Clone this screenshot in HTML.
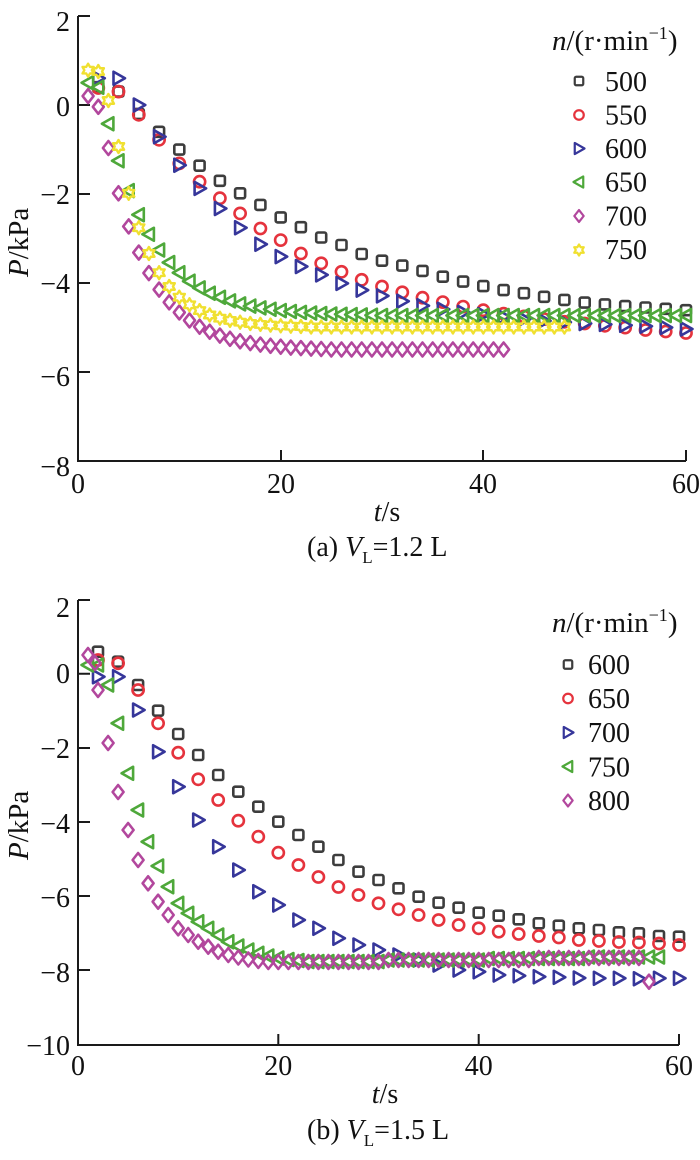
<!DOCTYPE html>
<html><head><meta charset="utf-8"><style>
html,body{margin:0;padding:0;background:#fff;}
svg{display:block;}
text{font-family:"Liberation Serif",serif;fill:#111;}
</style></head><body>
<svg width="700" height="1160" viewBox="0 0 700 1160" xmlns="http://www.w3.org/2000/svg">
<defs>
<rect id="q" x="-5" y="-5" width="10" height="10" rx="1.8"/>
<circle id="c" r="5.6"/>
<path id="r" d="M-5,-6.5L6.5,0L-5,6.5Z"/>
<path id="l" d="M5,-6.5L-6.5,0L5,6.5Z"/>
<path id="d" d="M0,-7L5.5,0L0,7L-5.5,0Z"/>
<path id="h" d="M0,-6.5L1.9,-3.25L5.6,-3.25L3.75,0L5.6,3.25L1.9,3.25L0,6.5L-1.9,3.25L-5.6,3.25L-3.75,0L-5.6,-3.25L-1.9,-3.25Z"/>
</defs>

<!-- ============ PANEL A ============ -->
<g stroke="#1a1a1a" stroke-width="2" fill="none">
<path d="M78,16V461H686"/>
<path d="M78,16H90M78,105H90M78,194H90M78,283H90M78,372H90"/>
<path d="M281,461V450M483,461V450M686,461V450"/>
</g>
<g font-size="28" text-anchor="end">
<text x="70" y="31">2</text>
<text x="70" y="116">0</text>
<text x="70" y="204">−2</text>
<text x="70" y="293">−4</text>
<text x="70" y="386">−6</text>
<text x="70" y="476">−8</text>
</g>
<g font-size="28" text-anchor="middle">
<text x="78" y="493">0</text>
<text x="281" y="493">20</text>
<text x="483" y="493">40</text>
<text x="686" y="493">60</text>
<text x="387" y="521"><tspan font-style="italic">t</tspan>/s</text>
</g>
<text font-size="29" transform="translate(28,277) rotate(-90)"><tspan font-style="italic">P</tspan>/kPa</text>
<text font-size="28" x="307" y="556">(a) <tspan font-style="italic">V</tspan><tspan font-size="17" dy="7">L</tspan><tspan dy="-7">=1.2 L</tspan></text>

<!-- legend a -->
<text font-size="29" x="552" y="50"><tspan font-style="italic">n</tspan>/(r·min<tspan font-size="18" dy="-11">−1</tspan><tspan dy="11">)</tspan></text>
<g font-size="28">
<text x="605" y="91">500</text>
<text x="605" y="124.5">550</text>
<text x="605" y="158">600</text>
<text x="605" y="191.5">650</text>
<text x="605" y="225.5">700</text>
<text x="605" y="259">750</text>
</g>
<g fill="none" stroke-width="2.6" stroke-linejoin="round">
<use href="#q" transform="translate(579,81) scale(0.85)" stroke="#3d3d3d"/>
<use href="#c" transform="translate(579,115) scale(0.85)" stroke="#e5333d"/>
<use href="#r" transform="translate(579,148.5) scale(0.85)" stroke="#36369a"/>
<use href="#l" transform="translate(579,182) scale(0.85)" stroke="#4ea83a"/>
<use href="#d" transform="translate(579,216) scale(0.85)" stroke="#b2479d"/>
<use href="#h" transform="translate(579,250) scale(0.85)" stroke="#f0e030"/>
</g>

<!-- series a: 500 black squares -->
<g fill="none" stroke="#3d3d3d" stroke-width="2.6" stroke-linejoin="round">
<use href="#q" x="98.3" y="87.2"/><use href="#q" x="118.5" y="91.6"/><use href="#q" x="138.8" y="113.9"/><use href="#q" x="159.1" y="131.8"/><use href="#q" x="179.3" y="149.6"/><use href="#q" x="199.6" y="165.7"/><use href="#q" x="219.9" y="180.8"/><use href="#q" x="240.1" y="193.3"/><use href="#q" x="260.4" y="204.9"/><use href="#q" x="280.7" y="217.4"/><use href="#q" x="300.9" y="227.2"/><use href="#q" x="321.2" y="237.5"/><use href="#q" x="341.5" y="245"/><use href="#q" x="361.7" y="254"/><use href="#q" x="382" y="260.7"/><use href="#q" x="402.3" y="265.6"/><use href="#q" x="422.5" y="270.9"/><use href="#q" x="442.8" y="276.7"/><use href="#q" x="463.1" y="281.6"/><use href="#q" x="483.3" y="286.1"/><use href="#q" x="503.6" y="290.1"/><use href="#q" x="523.9" y="293.2"/><use href="#q" x="544.1" y="296.8"/><use href="#q" x="564.4" y="299.9"/><use href="#q" x="584.7" y="302.6"/><use href="#q" x="604.9" y="304.4"/><use href="#q" x="625.2" y="306.1"/><use href="#q" x="645.5" y="307.5"/><use href="#q" x="665.7" y="308.8"/><use href="#q" x="686" y="310.2"/>
</g>
<!-- 550 red circles -->
<g fill="none" stroke="#e5333d" stroke-width="2.6">
<use href="#c" x="98.3" y="88"/><use href="#c" x="118.5" y="91.6"/><use href="#c" x="138.8" y="114.8"/><use href="#c" x="159.1" y="139.8"/><use href="#c" x="179.3" y="163.4"/><use href="#c" x="199.6" y="181.7"/><use href="#c" x="219.9" y="198.2"/><use href="#c" x="240.1" y="213.4"/><use href="#c" x="260.4" y="228.5"/><use href="#c" x="280.7" y="240.1"/><use href="#c" x="300.9" y="253.5"/><use href="#c" x="321.2" y="263.3"/><use href="#c" x="341.5" y="271.8"/><use href="#c" x="361.7" y="279.8"/><use href="#c" x="382" y="286.5"/><use href="#c" x="402.3" y="292.3"/><use href="#c" x="422.5" y="297.7"/><use href="#c" x="442.8" y="302.1"/><use href="#c" x="463.1" y="306.6"/><use href="#c" x="483.3" y="310.2"/><use href="#c" x="503.6" y="313.7"/><use href="#c" x="523.9" y="316.4"/><use href="#c" x="544.1" y="319.1"/><use href="#c" x="564.4" y="321.8"/><use href="#c" x="584.7" y="323.5"/><use href="#c" x="604.9" y="325.8"/><use href="#c" x="625.2" y="327.6"/><use href="#c" x="645.5" y="330"/><use href="#c" x="665.7" y="331.5"/><use href="#c" x="686" y="333"/>
</g>
<!-- 600 blue right triangles -->
<g fill="none" stroke="#36369a" stroke-width="2.6" stroke-linejoin="round">
<use href="#r" x="98.3" y="78.2"/><use href="#r" x="118.5" y="78.2"/><use href="#r" x="138.8" y="105"/><use href="#r" x="159.1" y="136.7"/><use href="#r" x="179.3" y="165.2"/><use href="#r" x="199.6" y="188.4"/><use href="#r" x="219.9" y="208.5"/><use href="#r" x="240.1" y="227.7"/><use href="#r" x="260.4" y="244.2"/><use href="#r" x="280.7" y="256.6"/><use href="#r" x="300.9" y="266.5"/><use href="#r" x="321.2" y="274.9"/><use href="#r" x="341.5" y="283.4"/><use href="#r" x="361.7" y="290.1"/><use href="#r" x="382" y="295.9"/><use href="#r" x="402.3" y="301.2"/><use href="#r" x="422.5" y="305.7"/><use href="#r" x="442.8" y="309.3"/><use href="#r" x="463.1" y="312.4"/><use href="#r" x="483.3" y="314.6"/><use href="#r" x="503.6" y="316.9"/><use href="#r" x="523.9" y="319.1"/><use href="#r" x="544.1" y="320.9"/><use href="#r" x="564.4" y="322.2"/><use href="#r" x="584.7" y="323.5"/><use href="#r" x="604.9" y="324.4"/><use href="#r" x="625.2" y="325.3"/><use href="#r" x="645.5" y="326.2"/><use href="#r" x="665.7" y="327.5"/><use href="#r" x="686" y="329"/>
</g>
<!-- 650 green left triangles -->
<g fill="none" stroke="#4ea83a" stroke-width="2.6" stroke-linejoin="round">
<use href="#l" x="88.1" y="82.7"/><use href="#l" x="98.3" y="87.2"/><use href="#l" x="108.4" y="123.7"/><use href="#l" x="118.5" y="160.8"/><use href="#l" x="128.7" y="190.6"/><use href="#l" x="138.8" y="214.7"/><use href="#l" x="148.9" y="234.3"/><use href="#l" x="159.1" y="250"/><use href="#l" x="169.2" y="262.5"/><use href="#l" x="179.3" y="272.7"/><use href="#l" x="189.5" y="281.2"/><use href="#l" x="199.6" y="287.9"/><use href="#l" x="209.7" y="293.2"/><use href="#l" x="219.9" y="297.3"/><use href="#l" x="230" y="300.9"/><use href="#l" x="240.1" y="303.9"/><use href="#l" x="250.3" y="306.1"/><use href="#l" x="260.4" y="307.9"/><use href="#l" x="270.5" y="309.3"/><use href="#l" x="280.7" y="310.6"/><use href="#l" x="290.8" y="311.5"/><use href="#l" x="300.9" y="312.4"/><use href="#l" x="311.1" y="313"/><use href="#l" x="321.2" y="313.5"/><use href="#l" x="331.3" y="314"/><use href="#l" x="341.5" y="314.3"/><use href="#l" x="351.6" y="314.6"/><use href="#l" x="361.7" y="314.9"/><use href="#l" x="371.9" y="315.2"/><use href="#l" x="382" y="315.5"/><use href="#l" x="392.1" y="315.5"/><use href="#l" x="402.3" y="315.5"/><use href="#l" x="412.4" y="315.5"/><use href="#l" x="422.5" y="315.5"/><use href="#l" x="432.7" y="315.5"/><use href="#l" x="442.8" y="315.5"/><use href="#l" x="452.9" y="315.5"/><use href="#l" x="463.1" y="315.5"/><use href="#l" x="473.2" y="315.5"/><use href="#l" x="483.3" y="315.5"/><use href="#l" x="493.5" y="315.5"/><use href="#l" x="503.6" y="315.5"/><use href="#l" x="513.7" y="315.5"/><use href="#l" x="523.9" y="315.5"/><use href="#l" x="534" y="315.5"/><use href="#l" x="544.1" y="315.5"/><use href="#l" x="554.3" y="315.5"/><use href="#l" x="564.4" y="315.5"/><use href="#l" x="574.5" y="315.5"/><use href="#l" x="584.7" y="315.5"/><use href="#l" x="594.8" y="315.5"/><use href="#l" x="604.9" y="315.5"/><use href="#l" x="615.1" y="315.5"/><use href="#l" x="625.2" y="315.5"/><use href="#l" x="635.3" y="315.5"/><use href="#l" x="645.5" y="315.5"/><use href="#l" x="655.6" y="315.5"/><use href="#l" x="665.7" y="315.5"/><use href="#l" x="675.9" y="315.5"/><use href="#l" x="686" y="315.5"/>
</g>
<!-- 700 pink diamonds -->
<g fill="none" stroke="#b2479d" stroke-width="2.6" stroke-linejoin="round">
<use href="#d" x="88.1" y="96.1"/><use href="#d" x="98.3" y="106.8"/><use href="#d" x="108.4" y="148"/><use href="#d" x="118.5" y="193.3"/><use href="#d" x="128.7" y="226.4"/><use href="#d" x="138.8" y="252.6"/><use href="#d" x="148.9" y="273.1"/><use href="#d" x="159.1" y="289.6"/><use href="#d" x="169.2" y="302.3"/><use href="#d" x="179.3" y="312.4"/><use href="#d" x="189.5" y="320.4"/><use href="#d" x="199.6" y="326.7"/><use href="#d" x="209.7" y="331.7"/><use href="#d" x="219.9" y="335.6"/><use href="#d" x="230" y="338.8"/><use href="#d" x="240.1" y="341.3"/><use href="#d" x="250.3" y="343.1"/><use href="#d" x="260.4" y="344.6"/><use href="#d" x="270.5" y="345.8"/><use href="#d" x="280.7" y="346.7"/><use href="#d" x="290.8" y="347.6"/><use href="#d" x="300.9" y="348.1"/><use href="#d" x="311.1" y="348.6"/><use href="#d" x="321.2" y="349"/><use href="#d" x="331.3" y="349.5"/><use href="#d" x="341.5" y="349.5"/><use href="#d" x="351.6" y="349.5"/><use href="#d" x="361.7" y="349.5"/><use href="#d" x="371.9" y="349.5"/><use href="#d" x="382" y="349.5"/><use href="#d" x="392.1" y="349.5"/><use href="#d" x="402.3" y="349.5"/><use href="#d" x="412.4" y="349.5"/><use href="#d" x="422.5" y="349.5"/><use href="#d" x="432.7" y="349.5"/><use href="#d" x="442.8" y="349.5"/><use href="#d" x="452.9" y="349.5"/><use href="#d" x="463.1" y="349.5"/><use href="#d" x="473.2" y="349.5"/><use href="#d" x="483.3" y="349.5"/><use href="#d" x="493.5" y="349.5"/><use href="#d" x="503.6" y="349.5"/>
</g>
<!-- 750 yellow stars -->
<g fill="none" stroke="#f0e030" stroke-width="2.4" stroke-linejoin="round">
<use href="#h" x="88.1" y="70.2"/><use href="#h" x="98.3" y="71.5"/><use href="#h" x="108.4" y="100.5"/><use href="#h" x="118.5" y="146.5"/><use href="#h" x="128.7" y="193.3"/><use href="#h" x="138.8" y="227.7"/><use href="#h" x="148.9" y="253.5"/><use href="#h" x="159.1" y="272.7"/><use href="#h" x="169.2" y="286.5"/><use href="#h" x="179.3" y="297.2"/><use href="#h" x="189.5" y="304.8"/><use href="#h" x="199.6" y="310.6"/><use href="#h" x="209.7" y="315"/><use href="#h" x="219.9" y="318.2"/><use href="#h" x="230" y="320.4"/><use href="#h" x="240.1" y="322.2"/><use href="#h" x="250.3" y="323.5"/><use href="#h" x="260.4" y="324.4"/><use href="#h" x="270.5" y="325.1"/><use href="#h" x="280.7" y="325.8"/><use href="#h" x="290.8" y="326.2"/><use href="#h" x="300.9" y="326.5"/><use href="#h" x="311.1" y="327"/><use href="#h" x="321.2" y="327"/><use href="#h" x="331.3" y="327"/><use href="#h" x="341.5" y="327"/><use href="#h" x="351.6" y="327"/><use href="#h" x="361.7" y="327"/><use href="#h" x="371.9" y="327"/><use href="#h" x="382" y="327"/><use href="#h" x="392.1" y="327"/><use href="#h" x="402.3" y="327"/><use href="#h" x="412.4" y="327"/><use href="#h" x="422.5" y="327"/><use href="#h" x="432.7" y="327"/><use href="#h" x="442.8" y="327"/><use href="#h" x="452.9" y="327"/><use href="#h" x="463.1" y="327"/><use href="#h" x="473.2" y="327"/><use href="#h" x="483.3" y="327"/><use href="#h" x="493.5" y="327"/><use href="#h" x="503.6" y="327"/><use href="#h" x="513.7" y="327"/><use href="#h" x="523.9" y="327"/><use href="#h" x="534" y="327"/><use href="#h" x="544.1" y="327"/><use href="#h" x="554.3" y="327"/><use href="#h" x="564.4" y="327"/>
</g>

<!-- ============ PANEL B ============ -->
<g stroke="#1a1a1a" stroke-width="2" fill="none">
<path d="M78,600V1045H679"/>
<path d="M78,600H90M78,673.8H90M78,748H90M78,822H90M78,896H90M78,970H90"/>
<path d="M278.3,1045V1034M478.7,1045V1034M679,1045V1034"/>
</g>
<g font-size="28" text-anchor="end">
<text x="70" y="617">2</text>
<text x="70" y="683">0</text>
<text x="70" y="758">−2</text>
<text x="70" y="833">−4</text>
<text x="70" y="907">−6</text>
<text x="70" y="982">−8</text>
<text x="70" y="1055">−10</text>
</g>
<g font-size="28" text-anchor="middle">
<text x="78" y="1075">0</text>
<text x="278.3" y="1075">20</text>
<text x="478.7" y="1075">40</text>
<text x="679" y="1075">60</text>
<text x="385" y="1103"><tspan font-style="italic">t</tspan>/s</text>
</g>
<text font-size="29" transform="translate(28,860) rotate(-90)"><tspan font-style="italic">P</tspan>/kPa</text>
<text font-size="28" x="307" y="1139">(b) <tspan font-style="italic">V</tspan><tspan font-size="17" dy="7">L</tspan><tspan dy="-7">=1.5 L</tspan></text>

<!-- legend b -->
<text font-size="29" x="552" y="632"><tspan font-style="italic">n</tspan>/(r·min<tspan font-size="18" dy="-11">−1</tspan><tspan dy="11">)</tspan></text>
<g font-size="28">
<text x="588" y="674">600</text>
<text x="588" y="708">650</text>
<text x="588" y="742">700</text>
<text x="588" y="776.5">750</text>
<text x="588" y="810">800</text>
</g>
<g fill="none" stroke-width="2.6" stroke-linejoin="round">
<use href="#q" transform="translate(568,664.5) scale(0.85)" stroke="#3d3d3d"/>
<use href="#c" transform="translate(568,698.5) scale(0.85)" stroke="#e5333d"/>
<use href="#r" transform="translate(568,732.5) scale(0.85)" stroke="#36369a"/>
<use href="#l" transform="translate(568,766.5) scale(0.85)" stroke="#4ea83a"/>
<use href="#d" transform="translate(568,800.5) scale(0.85)" stroke="#b2479d"/>
</g>

<!-- 600 black squares -->
<g fill="none" stroke="#3d3d3d" stroke-width="2.6" stroke-linejoin="round">
<use href="#q" x="98" y="651.7"/><use href="#q" x="118.1" y="661.7"/><use href="#q" x="138.1" y="685"/><use href="#q" x="158.1" y="710.7"/><use href="#q" x="178.2" y="734"/><use href="#q" x="198.2" y="755"/><use href="#q" x="218.2" y="775"/><use href="#q" x="238.3" y="791.7"/><use href="#q" x="258.3" y="806.7"/><use href="#q" x="278.3" y="821.7"/><use href="#q" x="298.4" y="835"/><use href="#q" x="318.4" y="846.7"/><use href="#q" x="338.4" y="860"/><use href="#q" x="358.5" y="871.7"/><use href="#q" x="378.5" y="880"/><use href="#q" x="398.5" y="888.3"/><use href="#q" x="418.6" y="896.7"/><use href="#q" x="438.6" y="902.7"/><use href="#q" x="458.6" y="907.7"/><use href="#q" x="478.7" y="912.7"/><use href="#q" x="498.7" y="915.7"/><use href="#q" x="518.7" y="919.3"/><use href="#q" x="538.8" y="923.3"/><use href="#q" x="558.8" y="925.7"/><use href="#q" x="578.8" y="928.3"/><use href="#q" x="598.9" y="930"/><use href="#q" x="618.9" y="932.3"/><use href="#q" x="638.9" y="933.3"/><use href="#q" x="659" y="936"/><use href="#q" x="679" y="936.7"/>
</g>
<!-- 650 red circles -->
<g fill="none" stroke="#e5333d" stroke-width="2.6">
<use href="#c" x="98" y="660"/><use href="#c" x="118.1" y="663.3"/><use href="#c" x="138.1" y="690"/><use href="#c" x="158.1" y="723.3"/><use href="#c" x="178.2" y="752.7"/><use href="#c" x="198.2" y="779.3"/><use href="#c" x="218.2" y="800"/><use href="#c" x="238.3" y="820.7"/><use href="#c" x="258.3" y="836.7"/><use href="#c" x="278.3" y="852.7"/><use href="#c" x="298.4" y="865"/><use href="#c" x="318.4" y="877"/><use href="#c" x="338.4" y="887"/><use href="#c" x="358.5" y="895"/><use href="#c" x="378.5" y="903.3"/><use href="#c" x="398.5" y="909.3"/><use href="#c" x="418.6" y="915"/><use href="#c" x="438.6" y="920"/><use href="#c" x="458.6" y="925"/><use href="#c" x="478.7" y="928.3"/><use href="#c" x="498.7" y="931.7"/><use href="#c" x="518.7" y="934"/><use href="#c" x="538.8" y="936"/><use href="#c" x="558.8" y="937.5"/><use href="#c" x="578.8" y="940"/><use href="#c" x="598.9" y="941"/><use href="#c" x="618.9" y="942"/><use href="#c" x="638.9" y="942.5"/><use href="#c" x="659" y="943.5"/><use href="#c" x="679" y="945"/>
</g>
<!-- 700 blue right triangles -->
<g fill="none" stroke="#36369a" stroke-width="2.6" stroke-linejoin="round">
<use href="#r" x="98" y="676.7"/><use href="#r" x="118.1" y="676.7"/><use href="#r" x="138.1" y="710"/><use href="#r" x="158.1" y="751.7"/><use href="#r" x="178.2" y="786.7"/><use href="#r" x="198.2" y="820"/><use href="#r" x="218.2" y="846.7"/><use href="#r" x="238.3" y="870"/><use href="#r" x="258.3" y="891.7"/><use href="#r" x="278.3" y="905"/><use href="#r" x="298.4" y="920"/><use href="#r" x="318.4" y="928.3"/><use href="#r" x="338.4" y="938.3"/><use href="#r" x="358.5" y="945"/><use href="#r" x="378.5" y="950"/><use href="#r" x="398.5" y="955"/><use href="#r" x="418.6" y="960"/><use href="#r" x="438.6" y="965"/><use href="#r" x="458.6" y="970"/><use href="#r" x="478.7" y="971.7"/><use href="#r" x="498.7" y="975"/><use href="#r" x="518.7" y="975.7"/><use href="#r" x="538.8" y="976.7"/><use href="#r" x="558.8" y="977.3"/><use href="#r" x="578.8" y="978"/><use href="#r" x="598.9" y="978.3"/><use href="#r" x="618.9" y="978.3"/><use href="#r" x="638.9" y="978.7"/><use href="#r" x="659" y="978.3"/><use href="#r" x="679" y="978.3"/>
</g>
<!-- 750 green left triangles -->
<g fill="none" stroke="#4ea83a" stroke-width="2.6" stroke-linejoin="round">
<use href="#l" x="88" y="665"/><use href="#l" x="98" y="665"/><use href="#l" x="108.1" y="685"/><use href="#l" x="118.1" y="723.3"/><use href="#l" x="128.1" y="773.3"/><use href="#l" x="138.1" y="810"/><use href="#l" x="148.1" y="841.7"/><use href="#l" x="158.1" y="866"/><use href="#l" x="168.2" y="886.7"/><use href="#l" x="178.2" y="903.3"/><use href="#l" x="188.2" y="913.3"/><use href="#l" x="198.2" y="921.7"/><use href="#l" x="208.2" y="928.3"/><use href="#l" x="218.2" y="935"/><use href="#l" x="228.3" y="941.7"/><use href="#l" x="238.3" y="946"/><use href="#l" x="248.3" y="950"/><use href="#l" x="258.3" y="953.3"/><use href="#l" x="268.3" y="956"/><use href="#l" x="278.3" y="958"/><use href="#l" x="288.4" y="959.5"/><use href="#l" x="298.4" y="960.5"/><use href="#l" x="308.4" y="961.5"/><use href="#l" x="318.4" y="961.5"/><use href="#l" x="328.4" y="961.5"/><use href="#l" x="338.4" y="961.5"/><use href="#l" x="348.5" y="961.5"/><use href="#l" x="358.5" y="961.5"/><use href="#l" x="368.5" y="961.5"/><use href="#l" x="378.5" y="961.5"/><use href="#l" x="388.5" y="960"/><use href="#l" x="398.5" y="960"/><use href="#l" x="408.6" y="960"/><use href="#l" x="418.6" y="960"/><use href="#l" x="428.6" y="960"/><use href="#l" x="438.6" y="960"/><use href="#l" x="448.6" y="960"/><use href="#l" x="458.6" y="960"/><use href="#l" x="468.7" y="960"/><use href="#l" x="478.7" y="960"/><use href="#l" x="488.7" y="958.5"/><use href="#l" x="498.7" y="958.5"/><use href="#l" x="508.7" y="958.5"/><use href="#l" x="518.7" y="958.5"/><use href="#l" x="528.8" y="958.5"/><use href="#l" x="538.8" y="958.5"/><use href="#l" x="548.8" y="958.5"/><use href="#l" x="558.8" y="958.5"/><use href="#l" x="568.8" y="958.5"/><use href="#l" x="578.8" y="958.5"/><use href="#l" x="588.9" y="957"/><use href="#l" x="598.9" y="957"/><use href="#l" x="608.9" y="957"/><use href="#l" x="618.9" y="957"/><use href="#l" x="628.9" y="957"/><use href="#l" x="638.9" y="957"/><use href="#l" x="649" y="957"/><use href="#l" x="659" y="957"/>
</g>
<!-- 800 pink diamonds -->
<g fill="none" stroke="#b2479d" stroke-width="2.6" stroke-linejoin="round">
<use href="#d" x="88" y="655"/><use href="#d" x="95" y="663"/><use href="#d" x="98" y="690"/><use href="#d" x="108.1" y="743"/><use href="#d" x="118.1" y="792"/><use href="#d" x="128.1" y="830"/><use href="#d" x="138.1" y="860"/><use href="#d" x="148.1" y="883.3"/><use href="#d" x="158.1" y="901.7"/><use href="#d" x="168.2" y="915"/><use href="#d" x="178.2" y="928.3"/><use href="#d" x="188.2" y="935"/><use href="#d" x="198.2" y="941.7"/><use href="#d" x="208.2" y="946.7"/><use href="#d" x="218.2" y="951.7"/><use href="#d" x="228.3" y="955"/><use href="#d" x="238.3" y="957.5"/><use href="#d" x="248.3" y="959.5"/><use href="#d" x="258.3" y="961"/><use href="#d" x="268.3" y="962"/><use href="#d" x="278.3" y="962"/><use href="#d" x="288.4" y="962"/><use href="#d" x="298.4" y="962"/><use href="#d" x="308.4" y="962"/><use href="#d" x="318.4" y="962"/><use href="#d" x="328.4" y="962"/><use href="#d" x="338.4" y="962"/><use href="#d" x="348.5" y="962"/><use href="#d" x="358.5" y="962"/><use href="#d" x="368.5" y="962"/><use href="#d" x="378.5" y="962"/><use href="#d" x="388.5" y="960"/><use href="#d" x="398.5" y="960"/><use href="#d" x="408.6" y="960"/><use href="#d" x="418.6" y="960"/><use href="#d" x="428.6" y="960"/><use href="#d" x="438.6" y="960"/><use href="#d" x="448.6" y="960"/><use href="#d" x="458.6" y="960"/><use href="#d" x="468.7" y="960"/><use href="#d" x="478.7" y="960"/><use href="#d" x="488.7" y="960"/><use href="#d" x="498.7" y="960"/><use href="#d" x="508.7" y="960"/><use href="#d" x="518.7" y="960"/><use href="#d" x="528.8" y="960"/><use href="#d" x="538.8" y="958"/><use href="#d" x="548.8" y="958"/><use href="#d" x="558.8" y="958"/><use href="#d" x="568.8" y="958"/><use href="#d" x="578.8" y="958"/><use href="#d" x="588.9" y="958"/><use href="#d" x="598.9" y="958"/><use href="#d" x="608.9" y="958"/><use href="#d" x="618.9" y="958"/><use href="#d" x="628.9" y="958"/><use href="#d" x="638.9" y="958"/><use href="#d" x="649" y="981.7"/>
</g>
</svg>
</body></html>
